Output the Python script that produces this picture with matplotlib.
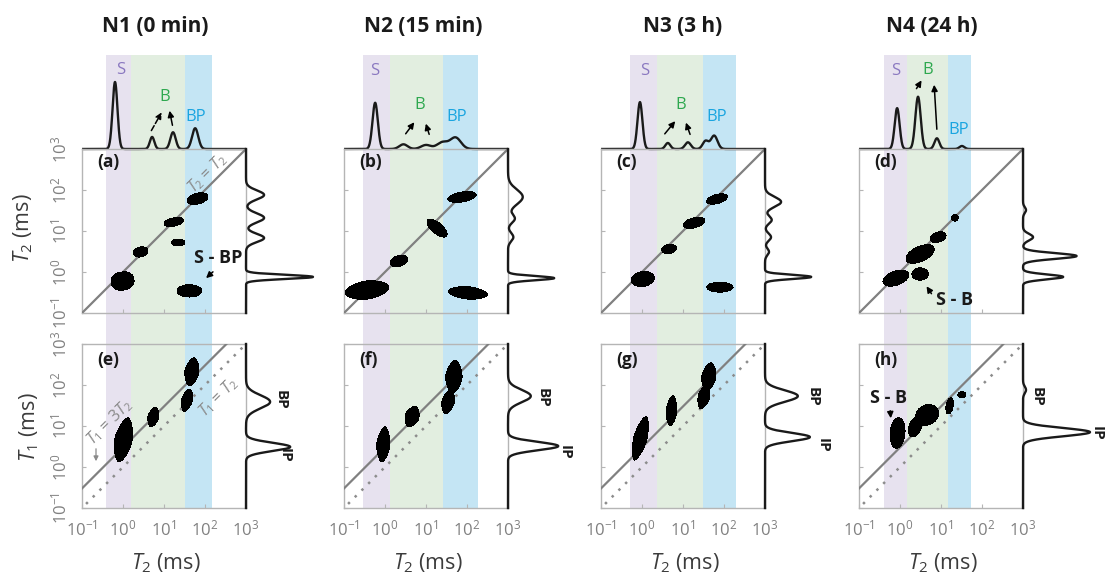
import numpy as np
import matplotlib
matplotlib.use('Agg')
import matplotlib.pyplot as plt

plt.rcParams['font.family'] = ['Open Sans', 'DejaVu Sans']
plt.rcParams['mathtext.fontset'] = 'custom'
plt.rcParams['mathtext.rm'] = 'Open Sans'
plt.rcParams['mathtext.it'] = 'Open Sans:italic'
plt.rcParams['mathtext.bf'] = 'Open Sans:bold'

# ---------------- data ----------------
titles = ["N1 (0 min)", "N2 (15 min)", "N3 (3 h)", "N4 (24 h)"]
top_tags = ["(a)", "(b)", "(c)", "(d)"]
bot_tags = ["(e)", "(f)", "(g)", "(h)"]
decade_ticks = [0.1, 1, 10, 100, 1000]
tick_labels = [r'$10^{-1}$', r'$10^{0}$', r'$10^{1}$', r'$10^{2}$', r'$10^{3}$']

# shaded T2 regions (ms)
band_S = [(0.38, 1.57), (0.29, 1.3), (0.51, 2.3), (0.41, 1.48)]
band_B = [(1.57, 32), (1.3, 26), (2.3, 31), (1.48, 14.8)]
band_BP = [(32, 148), (26, 186), (31, 195), (14.8, 54)]
band_colors = ['#e7e2ef', '#e2eee0', '#c4e5f4']

# 2D peaks: (log10 T2 centre, log10 T2/T1 centre, half-width x, half-width y, tilt deg, shape exp)
t2t2_peaks = [
    [(-0.01, -0.22, 0.28, 0.22, 10, 2.2), (0.43, 0.49, 0.18, 0.12, 15, 2),
     (1.24, 1.22, 0.24, 0.10, 12, 2), (1.35, 0.72, 0.16, 0.085, 0, 2),
     (1.82, 1.79, 0.26, 0.13, 15, 2), (1.62, -0.46, 0.30, 0.15, 0, 2)],
    [(-0.44, -0.44, 0.54, 0.22, 8, 1.8), (0.34, 0.27, 0.22, 0.13, 20, 2),
     (1.27, 1.07, 0.30, 0.13, -40, 2), (1.88, 1.83, 0.35, 0.12, 10, 2),
     (2.02, -0.51, 0.48, 0.15, -5, 1.8)],
    [(0.02, -0.17, 0.28, 0.18, 10, 2), (0.66, 0.56, 0.18, 0.11, 10, 2),
     (1.27, 1.20, 0.27, 0.12, 15, 2), (1.83, 1.78, 0.26, 0.11, 15, 2),
     (1.90, -0.37, 0.32, 0.12, 0, 2)],
    [(-0.10, -0.15, 0.33, 0.17, 20, 2), (0.49, -0.05, 0.20, 0.15, 0, 2),
     (0.49, 0.44, 0.37, 0.18, 25, 2), (0.93, 0.85, 0.20, 0.12, 20, 2),
     (1.34, 1.32, 0.08, 0.08, 0, 2)],
]
t1t2_peaks = [
    [(0.01, 0.66, 0.21, 0.55, -12, 1.6), (0.74, 1.22, 0.13, 0.25, -15, 1.6),
     (1.68, 2.32, 0.17, 0.35, -10, 1.6), (1.56, 1.63, 0.13, 0.28, -15, 1.6)],
    [(-0.04, 0.55, 0.16, 0.43, -5, 1.6), (0.66, 1.23, 0.17, 0.26, -20, 1.6),
     (1.68, 2.20, 0.20, 0.40, -5, 1.6), (1.54, 1.59, 0.15, 0.30, -15, 1.6)],
    [(-0.04, 0.70, 0.16, 0.55, -15, 1.6), (0.72, 1.37, 0.13, 0.37, -5, 1.6),
     (1.63, 2.20, 0.17, 0.35, -10, 1.6), (1.51, 1.71, 0.14, 0.30, -15, 1.6)],
    [(-0.06, 0.83, 0.18, 0.37, -5, 2), (0.66, 1.27, 0.29, 0.24, 30, 2),
     (0.37, 0.98, 0.15, 0.25, -20, 2), (1.21, 1.49, 0.085, 0.20, -10, 2),
     (1.51, 1.76, 0.10, 0.075, 0, 2)],
]

# 1D projections: (log10 centre, log10 width, relative height)
top_proj = [
    [(-0.195, 0.06, 1.0), (0.71, 0.055, 0.18), (1.22, 0.065, 0.25), (1.76, 0.075, 0.31)],
    [(-0.24, 0.065, 0.69), (0.45, 0.10, 0.07), (1.0, 0.12, 0.06), (1.4, 0.13, 0.10), (1.72, 0.13, 0.17)],
    [(-0.05, 0.06, 0.70), (0.63, 0.06, 0.09), (1.12, 0.07, 0.10), (1.55, 0.07, 0.12), (1.76, 0.08, 0.20)],
    [(-0.07, 0.06, 0.61), (0.44, 0.065, 0.78), (0.90, 0.06, 0.16), (1.51, 0.06, 0.045)],
]
right_proj_t2 = [
    [(1.88, 0.11, 0.27), (1.32, 0.11, 0.27), (0.83, 0.10, 0.27), (-0.12, 0.05, 1.0)],
    [(1.83, 0.18, 0.22), (1.30, 0.10, 0.10), (0.85, 0.10, 0.08), (-0.15, 0.05, 0.69)],
    [(1.71, 0.12, 0.24), (1.27, 0.09, 0.10), (0.85, 0.09, 0.09), (0.49, 0.08, 0.06), (-0.12, 0.05, 0.69)],
    [(1.51, 0.07, 0.045), (0.85, 0.08, 0.15), (0.39, 0.07, 0.80), (-0.12, 0.06, 0.60)],
]
right_proj_t1 = [
    [(1.59, 0.16, 0.36), (0.49, 0.10, 0.66)],
    [(1.73, 0.15, 0.34), (0.51, 0.10, 0.75)],
    [(1.73, 0.14, 0.49), (0.73, 0.10, 0.67)],
    [(1.88, 0.08, 0.045), (0.85, 0.10, 1.0)],
]

# ---------------- layout ----------------
W, H = 1105, 575
fig = plt.figure(figsize=(W / 100, H / 100), dpi=100)
fig.patch.set_facecolor('white')

col_x = [82, 344, 601, 859]
S = 164
Y_MTOP, Y_TOP, Y_BOT = 55, 149, 344
UNIT = 67.0  # px per unit projection height
RW = 80


def ax_px(x0, y0, w, h, **kw):
    return fig.add_axes([x0 / W, 1 - (y0 + h) / H, w / W, h / H], **kw)


def fp(x, y):
    return (x, H - y)


lg = np.linspace(-1, 3, 500)
LX, LY = np.meshgrid(lg, lg)
lt = np.linspace(-1, 3, 1200)


def field(peaks):
    Z = np.zeros_like(LX)
    for cx, cy, a, b, ang, p in peaks:
        t = np.deg2rad(ang)
        dx, dy = LX - cx, LY - cy
        u = dx * np.cos(t) + dy * np.sin(t)
        v = -dx * np.sin(t) + dy * np.cos(t)
        Z = np.maximum(Z, np.exp(-(np.abs(u / a) ** p + np.abs(v / b) ** p)))
    return Z


def spectrum(peaks):
    s = np.zeros_like(lt)
    for c, w, h in peaks:
        s += h * np.exp(-(lt - c) ** 2 / (2 * w ** 2))
    return s


GRAY = '#808080'
SPINE = '#b5b5b5'
LINEC = '#1a1a1a'


def style2d(ax, left_labels, bottom_labels):
    ax.set_xscale('log')
    ax.set_yscale('log')
    ax.set_xlim(0.1, 1000)
    ax.set_ylim(0.1, 1000)
    ax.set_facecolor('none')
    ax.minorticks_off()
    ax.set_xticks(decade_ticks)
    ax.set_yticks(decade_ticks)
    for sp in ax.spines.values():
        sp.set_color(SPINE)
        sp.set_linewidth(1.0)
    ax.tick_params(direction='in', length=3, color=SPINE, labelcolor=GRAY,
                   labelsize=12, which='both')
    ax.minorticks_off()
    if left_labels:
        ax.set_yticklabels(tick_labels, rotation=90, va='center')
        ax.tick_params(axis='y', pad=8)
    else:
        ax.set_yticklabels([])
    if bottom_labels:
        ax.set_xticklabels(tick_labels)
        ax.tick_params(axis='x', pad=8)
    else:
        ax.set_xticklabels([])


for i in range(4):
    x0 = col_x[i]
    # background shading
    bg = ax_px(x0, Y_MTOP, S, Y_BOT + S - Y_MTOP)
    bg.set_xscale('log')
    bg.set_xlim(0.1, 1000)
    bg.axis('off')
    for (lo, hi), c in zip([band_S[i], band_B[i], band_BP[i]], band_colors):
        bg.axvspan(lo, hi, color=c, lw=0)

    # top projection
    mt = ax_px(x0, Y_MTOP, S, Y_TOP - Y_MTOP)
    mt.set_xscale('log')
    mt.set_xlim(0.1, 1000)
    mt.set_ylim(0, (Y_TOP - Y_MTOP) / UNIT)
    mt.axis('off')
    mt.plot(10 ** lt, spectrum(top_proj[i]), color=LINEC, lw=1.7, clip_on=False,
            solid_capstyle='butt')

    # T2-T2 map
    ax = ax_px(x0, Y_TOP, S, S)
    style2d(ax, i == 0, False)
    ax.plot([0.1, 1000], [0.1, 1000], color=GRAY, lw=1.6, zorder=3)
    ax.contourf(10 ** LX, 10 ** LY, field(t2t2_peaks[i]), levels=[np.exp(-1), 2],
                colors='black', zorder=4)
    ax.text(0.09, 0.92, top_tags[i], transform=ax.transAxes, fontsize=12.5,
            fontweight='bold', color=LINEC, va='center', ha='left', zorder=5)

    # right projection (T2)
    mr = ax_px(x0 + S, Y_TOP, RW, S)
    mr.set_yscale('log')
    mr.set_ylim(0.1, 1000)
    mr.set_xlim(0, RW / UNIT)
    mr.axis('off')
    mr.plot(spectrum(right_proj_t2[i]), 10 ** lt, color=LINEC, lw=1.7, clip_on=False)

    # T1-T2 map
    bx = ax_px(x0, Y_BOT, S, S)
    style2d(bx, i == 0, True)
    t2 = np.array([0.1, 1000 / 3.0])
    bx.plot(t2, 3 * t2, color=GRAY, lw=1.6, zorder=3)
    bx.plot([0.1, 1000], [0.1, 1000], color='#8c8c8c', lw=1.8, ls=(1.5, (1, 2.8)),
            zorder=3)
    bx.contourf(10 ** LX, 10 ** LY, field(t1t2_peaks[i]), levels=[np.exp(-1), 2],
                colors='black', zorder=4)
    bx.text(0.09, 0.9, bot_tags[i], transform=bx.transAxes, fontsize=12.5,
            fontweight='bold', color=LINEC, va='center', ha='left', zorder=5)

    # right projection (T1)
    br = ax_px(x0 + S, Y_BOT, RW, S)
    br.set_yscale('log')
    br.set_ylim(0.1, 1000)
    br.set_xlim(0, RW / UNIT)
    br.axis('off')
    br.plot(spectrum(right_proj_t1[i]), 10 ** lt, color=LINEC, lw=1.7, clip_on=False)

    # x label
    fig.text((x0 + 84) / W, 1 - 563 / H, r'$T_2$ (ms)', ha='center', va='center',
             fontsize=15.5, color='#3c3c3c')

# titles
for tx, t in zip([155, 423, 683, 932], titles):
    fig.text(tx / W, 1 - 27 / H, t, ha='center', va='center', fontsize=15,
             fontweight='bold', color=LINEC)

# y labels
fig.text(23 / W, 1 - 228 / H, r'$T_2$ (ms)', rotation=90, ha='center', va='center',
         fontsize=15.5, color='#3c3c3c')
fig.text(29 / W, 1 - 427 / H, r'$T_1$ (ms)', rotation=90, ha='center', va='center',
         fontsize=15.5, color='#3c3c3c')

# region labels in top projections
COL_S, COL_B, COL_BP = '#8a78c0', '#2ea84f', '#1aa5e0'
lab_pos = [
    [(121, 70), (165, 97), (196, 117)],
    [(375, 71), (420, 105), (457, 117)],
    [(645, 71), (681, 105), (717, 117)],
    [(896, 71), (928, 70), (959, 130)],
]
for pos in lab_pos:
    for (x, y), txt, c in zip(pos, ['S', 'B', 'BP'], [COL_S, COL_B, COL_BP]):
        fig.text(x / W, 1 - y / H, txt, color=c, fontsize=12, ha='center', va='center')

arrows = [
    ((150, 133), (163, 110), '--'), ((173, 128), (169, 108), '-'),
    ((404, 136), (416, 120), '-'), ((430, 137), (425, 121), '-'),
    ((663, 136), (677, 119), '-'), ((691, 137), (685, 120), '-'),
    ((915, 91), (923, 78), '-'), ((937, 132), (934, 82), '-'),
]
for tail, tip, ls in arrows:
    fig.add_artist(matplotlib.patches.FancyArrowPatch(
        fp(*tail), fp(*tip), transform=None, arrowstyle='-|>', mutation_scale=9,
        color='black', lw=1.1, linestyle=ls))

# cross-peak annotations
fig.text(218 / W, 1 - 258 / H, 'S - BP', fontsize=13, fontweight='bold', ha='center',
         va='center', color=LINEC)
fig.add_artist(matplotlib.patches.FancyArrowPatch(
    fp(215, 270), fp(204, 280), transform=None, arrowstyle='-|>', mutation_scale=9,
    color='black', lw=1.1))
fig.text(955 / W, 1 - 300 / H, 'S - B', fontsize=13, fontweight='bold', ha='center',
         va='center', color=LINEC)
fig.add_artist(matplotlib.patches.FancyArrowPatch(
    fp(933, 296), fp(925, 284), transform=None, arrowstyle='-|>', mutation_scale=9,
    color='black', lw=1.1))
fig.text(889 / W, 1 - 398 / H, 'S - B', fontsize=13, fontweight='bold', ha='center',
         va='center', color=LINEC)
fig.add_artist(matplotlib.patches.FancyArrowPatch(
    fp(890, 408), fp(891, 421), transform=None, arrowstyle='-|>', mutation_scale=9,
    color='black', lw=1.1))

# diagonal-line labels
fig.text(207 / W, 1 - 173 / H, r'$T_2$ = $T_2$', rotation=45, ha='center', va='center',
         fontsize=11.5, color='#8a8a8a')
fig.text(110 / W, 1 - 422 / H, r'$T_1$ = 3$T_2$', rotation=45, ha='center', va='center',
         fontsize=11.5, color='#8a8a8a')
fig.text(218 / W, 1 - 397 / H, r'$T_1$ = $T_2$', rotation=45, ha='center', va='center',
         fontsize=11.5, color='#8a8a8a')
fig.add_artist(matplotlib.patches.FancyArrowPatch(
    fp(96, 446), fp(96, 464), transform=None, arrowstyle='-|>', mutation_scale=7,
    color='#8a8a8a', lw=0.9))

# T1 projection peak labels
for (x, y), txt in zip([(281, 400), (285, 455), (543, 398), (565, 452),
                        (813, 397), (823, 445), (1037, 397), (1097, 433)],
                       ['BP', 'IP'] * 4):
    fig.text(x / W, 1 - y / H, txt, rotation=-90, ha='center', va='center',
             fontsize=11, fontweight='bold', color=LINEC)

fig.savefig('out.png', dpi=100, facecolor='white')
